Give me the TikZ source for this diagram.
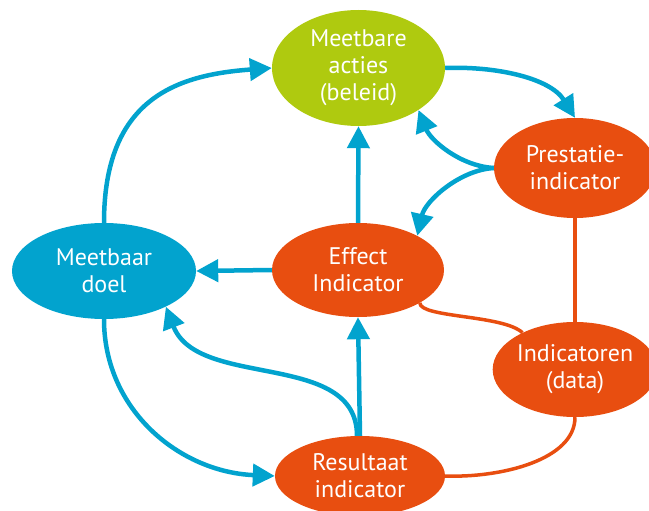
\documentclass[tikz,border=0pt]{standalone}
\usepackage{fontspec}
\setmainfont{PT Sans}
\usetikzlibrary{arrows.meta,shapes.geometric}
\definecolor{cblue}{HTML}{02A3CE}
\definecolor{corange}{HTML}{E84E10}
\definecolor{cgreen}{HTML}{AFCA0F}
\tikzset{
  bub/.style={ellipse, draw=none, text=white, align=center, inner sep=0pt,
    font=\fontsize{24}{27}\selectfont},
  bluearrow/.style={draw=cblue, line width=4.5pt, -{Triangle[length=22pt,width=22pt]}},
  orangeline/.style={draw=corange, line width=3.5pt},
}
\begin{document}
\begin{tikzpicture}[x=1pt,y=-1pt]
\useasboundingbox (0,0) rectangle (649,511);
\clip (0,0) rectangle (649,511);
% nodes
\node[bub, fill=cgreen, minimum width=173pt, minimum height=116pt] (acties) at (358.5,68) {Meetbare\\acties\\(beleid)};
\node[bub, fill=corange, minimum width=162pt, minimum height=100pt] (prest) at (575,168) {Prestatie-\\indicator};
\node[bub, fill=cblue, minimum width=184pt, minimum height=96pt] (doel) at (104,271) {Meetbaar\\doel};
\node[bub, fill=corange, minimum width=172pt, minimum height=94pt] (effect) at (358,270) {Effect\\Indicator};
\node[bub, fill=corange, minimum width=164pt, minimum height=95pt] (indic) at (575,369.5) {Indicatoren\\(data)};
\node[bub, fill=corange, minimum width=170pt, minimum height=80pt] (resul) at (360,476) {Resultaat\\indicator};
% orange connectors
\draw[orangeline] (effect.-28) .. controls +(0,15) and +(-19,-18) .. (indic.145);
\draw[orangeline] (prest.south) -- (indic.north);
\draw[orangeline] (indic.south) .. controls +(0,43) and +(55,2) .. (resul.east);
% blue connectors
\draw[bluearrow] (doel.north) .. controls +(0,-123) and +(-97,7) .. (acties.west);
\draw[bluearrow] (acties.east) .. controls +(50,-2) and +(-25,-40) .. (prest.north);
\draw[bluearrow] (effect.north) -- (acties.south);
\draw[bluearrow] (prest.west) .. controls +(-34,-2) and +(12,30) .. (acties.-35);
\draw[bluearrow] (prest.west) .. controls +(-34,2) and +(8,-35) .. (effect.30);
\draw[bluearrow] (effect.west) -- (doel.east);
\draw[bluearrow] (resul.north) -- (effect.south);
\draw[bluearrow] ([xshift=-3pt]resul.north) .. controls +(0,-86) and +(32,83) .. (doel.-30);
\draw[bluearrow] (doel.south) .. controls +(0,91) and +(-95,-4) .. (resul.west);
\end{tikzpicture}
\end{document}
